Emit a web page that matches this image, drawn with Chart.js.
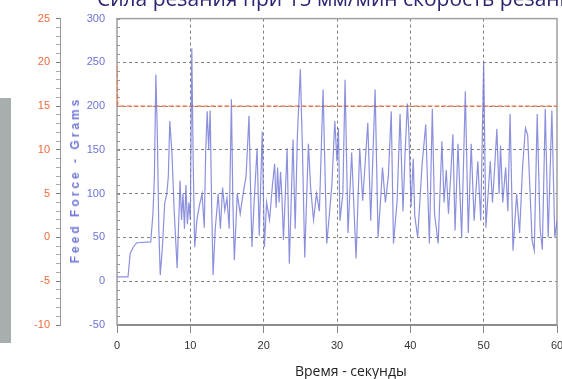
<!DOCTYPE html>
<html lang="ru">
<head>
<meta charset="UTF-8">
<title>Сила резания</title>
<script src="https://cdn.jsdelivr.net/npm/chart.js"></script>
<style>
  body { margin: 0; background: #fff; overflow: hidden; }
  #wrap { position: relative; width: 562px; height: 379px; overflow: hidden; }
  #title { position: absolute; left: 97px; top: -16px; white-space: nowrap; font: 21px "Open Sans", sans-serif; color: #2b2470; }
  #xtitle { position: absolute; left: 295px; top: 361px; white-space: nowrap; font: 14px "Open Sans", sans-serif; color: #222; }
  #ytitle { position: absolute; left: 75px; top: 180px; white-space: nowrap; font: bold 12px "Liberation Sans", sans-serif; letter-spacing: 3px; color: #7177d8; transform: translate(-50%, -50%) rotate(-90deg); }
  #bar { position: absolute; left: 0; top: 98px; width: 11px; height: 245px; background: #a8adae; }
</style>
</head>
<body>
<div id="wrap">
  <canvas id="forceChart" width="562" height="379"></canvas>
  <div id="title">Сила резания при 15 мм/мин скорость резания</div>
  <div id="ytitle">Feed Force - Grams</div>
  <div id="xtitle">Время - секунды</div>
  <div id="bar"></div>
</div>
<script>
// time, s
const time = [0, 1.5, 1.8, 2.3, 2.7, 4.6, 4.9, 5.1, 5.3, 5.5, 5.7, 5.9, 6.2, 6.5, 6.8, 7.0, 7.2, 7.5, 7.8, 8.2,
  8.6, 8.8, 9.0, 9.2, 9.4, 9.6, 9.8, 10.0, 10.2, 10.4, 10.6, 10.9, 11.2, 11.6, 11.9, 12.1, 12.3, 12.5, 12.7, 12.9,
  13.1, 13.4, 13.8, 14.1, 14.4, 14.7, 15.0, 15.3, 15.6, 15.8, 16.0, 16.4, 16.8, 17.2, 17.6, 18.0, 18.2, 18.4, 18.7, 19.1,
  19.4, 19.8, 20.1, 20.4, 20.8, 21.2, 21.5, 21.7, 21.9, 22.1, 22.3, 22.5, 22.7, 23.2, 23.5, 24.0, 24.3, 24.6, 25.0, 25.3,
  25.6, 26.1, 26.4, 26.8, 27.2, 27.6, 28.1, 28.6, 29.0, 29.3, 29.7, 30.0, 30.2, 30.4, 30.8, 31.1, 31.5, 32.0, 32.6, 33.1,
  33.5, 34.2, 34.6, 35.2, 35.6, 36.0, 36.2, 36.6, 37.0, 37.4, 37.7, 38.2, 38.6, 39.0, 39.3, 39.6, 39.8, 40.1, 40.4, 40.6,
  41.0, 41.6, 42.1, 42.6, 43.0, 43.3, 43.8, 44.3, 44.6, 44.9, 45.2, 45.5, 45.8, 46.1, 46.5, 47.0, 47.5, 47.9, 48.3, 48.7,
  49.2, 49.6, 50.0, 50.3, 50.9, 51.2, 51.5, 51.8, 52.1, 52.3, 52.6, 53.0, 53.3, 53.6, 54.0, 54.5, 54.9, 55.3, 55.7, 56.0,
  56.6, 56.9, 57.3, 57.7, 58.0, 58.4, 58.8, 59.3, 59.7, 60.0];
// feed force, grams
const force = [5, 5, 32, 40, 44, 45, 77, 120, 236, 168, 60, 7, 40, 89, 100, 120, 183, 145, 80, 15,
  115, 70, 100, 60, 110, 65, 90, 70, 266, 130, 39, 70, 85, 100, 61, 150, 194, 150, 195, 90,
  7, 60, 100, 60, 107, 81, 95, 60, 208, 90, 24, 100, 77, 100, 120, 189, 110, 39, 90, 152,
  52, 171, 39, 90, 70, 110, 134, 84, 130, 90, 125, 95, 47, 152, 20, 162, 60, 167, 242, 146,
  27, 157, 107, 70, 100, 80, 219, 43, 80, 110, 183, 137, 175, 69, 100, 230, 55, 147, 26, 152,
  92, 181, 69, 219, 50, 100, 130, 90, 120, 194, 43, 92, 191, 80, 150, 203, 170, 85, 140, 75,
  50, 133, 179, 43, 197, 77, 43, 160, 90, 127, 77, 120, 168, 58, 157, 50, 217, 55, 157, 69,
  137, 69, 251, 61, 137, 90, 130, 174, 100, 155, 90, 130, 80, 191, 35, 100, 55, 130, 175, 167,
  47, 35, 191, 60, 36, 197, 50, 195, 50, 69];
// cutting speed setting, %
const speedTime = [0, 0.1, 60];
const speedValue = [19.6, 15, 15];

const xTicks = [0, 10, 20, 30, 40, 50, 60];
const forceTicks = [-50, 0, 50, 100, 150, 200, 250, 300];
const speedTicks = [-10, -5, 0, 5, 10, 15, 20, 25];

const frame = {
  id: 'frame',
  beforeDatasetsDraw(chart) {
    const a = chart.chartArea, c = chart.ctx;
    c.save();
    c.strokeStyle = '#a0a0a0';
    c.lineWidth = 1.5;
    c.strokeRect(a.left, a.top, a.right - a.left, a.bottom - a.top);
    c.strokeStyle = '#8c8c8c';
    c.lineWidth = 2;
    c.beginPath();
    c.moveTo(a.left, a.bottom);
    c.lineTo(a.right, a.bottom);
    c.stroke();
    // small minor ticks on the inner left edge
    const ys = chart.scales.y;
    c.strokeStyle = '#999';
    c.lineWidth = 1;
    for (let v = forceTicks[0]; v <= forceTicks[forceTicks.length - 1]; v += 10) {
      const py = Math.round(ys.getPixelForValue(v)) + 0.5;
      c.beginPath();
      c.moveTo(a.left, py);
      c.lineTo(a.left + 3, py);
      c.stroke();
    }
    c.restore();
  }
};

new Chart(document.getElementById('forceChart'), {
  type: 'line',
  data: {
    datasets: [{
      label: 'Feed Force',
      data: time.map((t, i) => ({ x: t, y: force[i] })),
      yAxisID: 'y',
      borderColor: 'rgba(108, 113, 212, 0.78)',
      borderWidth: 1.2,
      pointRadius: 0,
      tension: 0
    }, {
      label: 'Speed',
      data: speedTime.map((t, i) => ({ x: t, y: speedValue[i] })),
      yAxisID: 'y2',
      borderColor: '#ef7347',
      borderWidth: 1.3,
      borderDash: [5, 2],
      pointRadius: 0,
      tension: 0
    }]
  },
  options: {
    responsive: false,
    animation: false,
    layout: { padding: { left: 20, right: 5, top: 18, bottom: 24 } },
    plugins: { legend: { display: false }, tooltip: { enabled: false } },
    scales: {
      x: {
        type: 'linear',
        min: xTicks[0],
        max: xTicks[xTicks.length - 1],
        afterBuildTicks: s => { s.ticks = xTicks.map(v => ({ value: v })); },
        afterFit: s => { s.height = 30; s.paddingLeft = 0; s.paddingRight = 0; },
        grid: {
          color: c => (c.tick.value > 0 && c.tick.value < 60) ? '#808080' : 'rgba(0,0,0,0)',
          tickColor: '#888',
          tickLength: 8,
          lineWidth: 1
        },
        border: { display: false, dash: [3, 3] },
        ticks: { color: '#333', padding: 6, font: { family: 'Liberation Sans', size: 11 } }
      },
      y: {
        position: 'left',
        weight: 0,
        min: forceTicks[0],
        max: forceTicks[forceTicks.length - 1],
        afterBuildTicks: s => { s.ticks = forceTicks.map(v => ({ value: v })); },
        afterFit: s => { s.width = 57; },
        grid: {
          color: c => (c.tick.value > -50 && c.tick.value < 300) ? '#808080' : 'rgba(0,0,0,0)',
          drawTicks: false
        },
        border: { display: false, dash: [3, 3] },
        ticks: { color: '#6c72d6', padding: 12, font: { family: 'Liberation Sans', size: 11 } }
      },
      y2: {
        position: 'left',
        weight: 1,
        min: speedTicks[0],
        max: speedTicks[speedTicks.length - 1],
        afterFit: s => { s.width = 40; },
        ticks: {
          stepSize: 1,
          autoSkip: false,
          color: '#ee6a3a',
          padding: 6,
          font: { family: 'Liberation Sans', size: 11 },
          callback: v => speedTicks.includes(v) ? v : ''
        },
        grid: {
          drawOnChartArea: false,
          tickLength: 4,
          tickColor: c => speedTicks.includes(c.tick.value) ? '#777' : '#aaa'
        },
        border: { display: true, color: '#999', width: 1 }
      }
    }
  },
  plugins: [frame]
});
</script>
</body>
</html>
